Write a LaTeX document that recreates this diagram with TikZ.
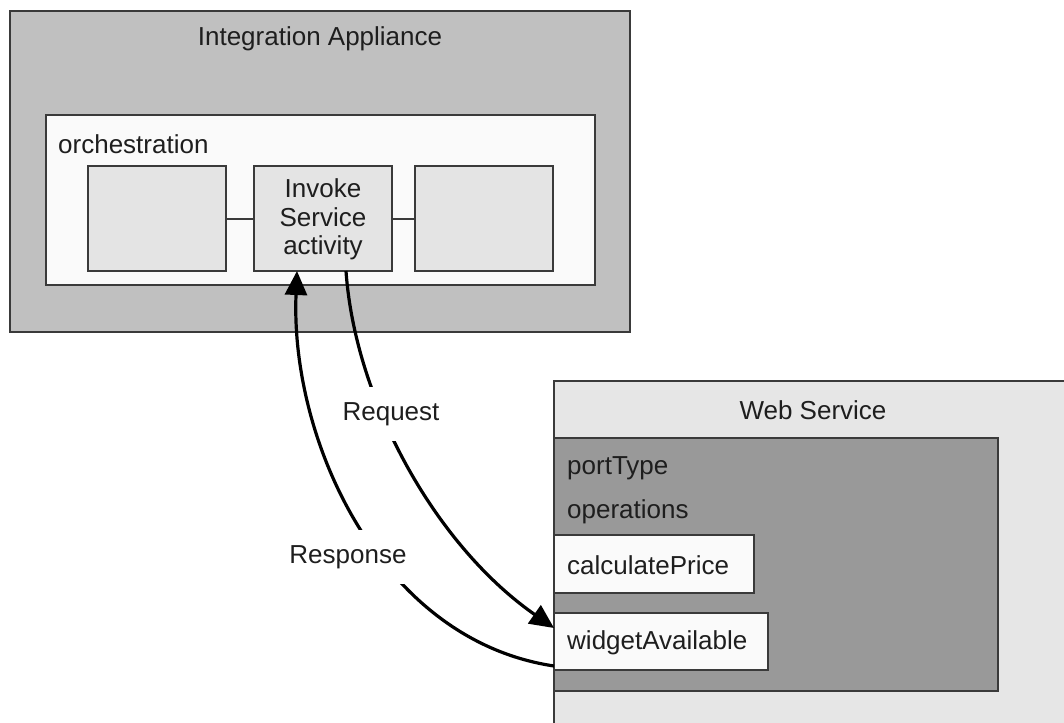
\documentclass[tikz,border=0pt]{standalone}
\usepackage{fontspec}
\setmainfont{Liberation Sans}
\usetikzlibrary{arrows.meta}
\definecolor{iagray}{HTML}{C0C0C0}
\definecolor{orchfill}{HTML}{FAFAFA}
\definecolor{actfill}{HTML}{E4E4E4}
\definecolor{wsfill}{HTML}{E6E6E6}
\definecolor{ptfill}{HTML}{999999}
\definecolor{edge}{HTML}{3A3A3A}
\definecolor{ink}{HTML}{1E1E1E}
\tikzset{
  box/.style={draw=edge, line width=2pt, inner sep=0pt, outer sep=0pt, rectangle},
  lbl/.style={text=ink, font=\fontsize{26}{28.5}\selectfont, inner sep=0pt},
  oplbl/.style={lbl, anchor=west},
  flow/.style={line width=3.2pt, black, -{Triangle[length=24pt,width=22pt]}},
  flowlbl/.style={lbl, fill=white, inner xsep=2pt, inner ysep=15pt},
  link/.style={draw=edge, line width=2pt}
}
\begin{document}
\begin{tikzpicture}[x=1pt,y=-1pt]
\useasboundingbox (0,0) rectangle (1064,722);
\clip (0,0) rectangle (1064,722);
\fill[white] (0,0) rectangle (1064,722);
% Integration Appliance
\node[box, fill=iagray, minimum width=620pt, minimum height=321pt] (ia) at (320,171.5) {};
\node[lbl] (iatitle) at (320,39) {Integration Appliance};
\node[box, fill=orchfill, minimum width=549pt, minimum height=170pt] (orch) at (320.5,200) {};
\node[oplbl] (orchlbl) at (58,144) {orchestration};
\node[box, fill=actfill, minimum width=138pt, minimum height=105pt] (b1) at (157,218.5) {};
\node[box, fill=actfill, minimum width=138pt, minimum height=105pt] (invoke) at (323,218.5) {};
\node[lbl, align=center] (invoketxt) at (323,219.5) {Invoke\\Service\\activity};
\node[box, fill=actfill, minimum width=138pt, minimum height=105pt] (b3) at (484,218.5) {};
\draw[link] (b1.east) -- (invoke.west);
\draw[link] (invoke.east) -- (b3.west);
% Web Service
\node[box, fill=wsfill, minimum width=516pt, minimum height=349pt] (ws) at (812,555.5) {};
\node[lbl] (wstitle) at (813,410) {Web Service};
\node[box, fill=ptfill, minimum width=444pt, minimum height=253pt] (pt) at (776,564.5) {};
\node[oplbl] (ptlbl) at (567,468) {portType};
\node[oplbl] (opslbl) at (567,512) {operations};
\node[box, fill=orchfill, minimum width=200pt, minimum height=58pt] (cp) at (654,564) {};
\node[oplbl] (cplbl) at (567,565) {calculatePrice};
\node[box, fill=orchfill, minimum width=214pt, minimum height=57pt] (wa) at (661,641.5) {};
\node[oplbl] (walbl) at (567,642.5) {widgetAvailable};
% Request / Response
\draw[flow] ([xshift=23pt]invoke.south) .. controls (355,400) and (435,545) .. ([yshift=13.5pt]wa.west);
\draw[flow] ([yshift=-24.5pt]wa.west) .. controls (380,640) and (290,440) .. ([xshift=-26pt]invoke.south);
\node[flowlbl] (req) at (391,414) {Request};
\node[flowlbl] (resp) at (348,557) {Response};
\end{tikzpicture}
\end{document}
